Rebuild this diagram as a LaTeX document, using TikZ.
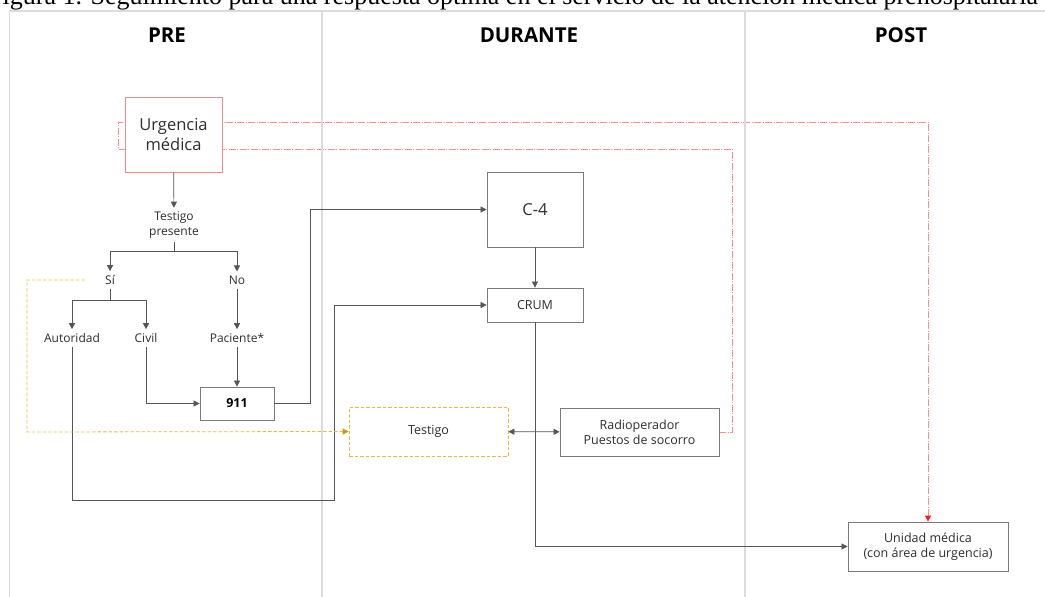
\documentclass[tikz,border=0pt]{standalone}
\usepackage{fontspec}
\setmainfont{Open Sans}
\newfontfamily\capfont{Liberation Serif}
\usetikzlibrary{arrows.meta,backgrounds}
\definecolor{framegray}{HTML}{DCDCDC}
\definecolor{boxgray}{HTML}{7A7A7A}
\definecolor{linegray}{HTML}{555555}
\definecolor{txtgray}{HTML}{2E2E2E}
\definecolor{urgred}{HTML}{F28B8B}
\definecolor{dashred}{HTML}{FF8C8C}
\definecolor{tipred}{HTML}{FF1A1A}
\definecolor{dashgold}{HTML}{E8B84A}
\definecolor{tipgold}{HTML}{C99A12}

\begin{document}
\begin{tikzpicture}[x=1pt,y=1pt,yscale=-1,
    frame/.style={draw=framegray,line width=1.5pt},
    head/.style={font=\fontsize{20.5}{24}\selectfont\bfseries,text=black},
    lbl/.style={font=\fontsize{12}{14.5}\selectfont,text=txtgray,align=center,inner sep=4pt},
    box/.style={draw=boxgray,fill=white,line width=0.8pt,align=center,text=txtgray,
        font=\fontsize{12.5}{15}\selectfont,inner sep=2pt},
    bigtxt/.style={font=\fontsize{16.5}{20}\selectfont},
    arr/.style={draw=linegray,line width=0.7pt,-{Triangle[length=6pt,width=6pt]}},
    plain/.style={draw=linegray,line width=0.7pt},
    redline/.style={draw=dashred,line width=0.8pt,dash pattern=on 7pt off 1.5pt on 1pt off 1.5pt,
        -{Triangle[length=6pt,width=6pt,color=tipred]}},
    goldline/.style={draw=dashgold,line width=0.8pt,dash pattern=on 3.5pt off 2pt,
        -{Triangle[length=6pt,width=6pt,color=tipgold]}}]
    \clip (0,0) rectangle (1045,597);

    \node[anchor=base west,inner sep=0pt,font=\capfont\fontsize{26}{28}\selectfont] (cap) at (-12,5)
        {Figura 1. Seguimiento para una respuesta óptima en el servicio de la atención médica prehospitalaria};

    \draw[frame] (9.5,597) -- (9.5,11) -- (1045,11);
    \draw[frame] (322,11) -- (322,597);
    \draw[frame] (745,11) -- (745,597);

    \node[head] (pre) at (167,35) {PRE};
    \node[head] (dur) at (529,35) {DURANTE};
    \node[head] (post) at (901,35) {POST};

    \node[box,bigtxt,draw=urgred,minimum width=97pt,minimum height=75pt] (urg) at (173.5,134.5) {Urgencia\\médica};
    \node[lbl] (tp) at (174,225) {Testigo\\presente};
    \node[lbl] (si) at (110,280) {Sí};
    \node[lbl] (no) at (237,280) {No};
    \node[lbl] (aut) at (72,338) {Autoridad};
    \node[lbl] (civ) at (146,338) {Civil};
    \node[lbl] (pac) at (237,338) {Paciente*};
    \node[box,minimum width=74pt,minimum height=33pt,font=\fontsize{12.5}{15}\selectfont\bfseries,text=black] (n911) at (237,403.5) {911};
    \node[box,bigtxt,minimum width=96pt,minimum height=75pt] (c4) at (535,209.5) {C-4};
    \node[box,minimum width=96pt,minimum height=34pt] (crum) at (535,305) {CRUM};
    \node[box,draw=dashgold,dash pattern=on 3.5pt off 2pt,minimum width=159pt,minimum height=49pt] (tes) at (428.5,431.5) {Testigo};
    \node[box,minimum width=159pt,minimum height=48pt] (rad) at (639.5,432) {Radioperador\\Puestos de socorro};
    \node[box,minimum width=160pt,minimum height=49pt] (uni) at (928,546.5) {Unidad médica\\(con área de urgencia)};

    \coordinate (tpj) at ([yshift=9pt]tp.south);
    \coordinate (sij) at ([yshift=11pt]si.south);
    \coordinate (aut2) at (334,500);
    \coordinate (gold) at (27,432);
    \coordinate (r1) at (732,149);
    \coordinate (r2) at (118,122);

    \begin{scope}[on background layer]
        \draw[redline] (rad.east) -| (r1) -| (r2) -| (uni.north);
    \end{scope}

    \draw[arr] (urg) -- (tp);
    \draw[plain] (tp.south) -- (tpj);
    \draw[arr] (tpj) -| (si.north);
    \draw[arr] (tpj) -| (no.north);
    \draw[plain] (si.south) -- (sij);
    \draw[arr] (sij) -| (aut.north);
    \draw[arr] (sij) -| (civ.north);
    \draw[arr] (no) -- (pac);
    \draw[arr] (pac) -- (n911);
    \draw[arr] (civ.south) |- (n911.west);
    \draw[arr] (n911.east) -- ++(36,0) |- (c4.west);
    \draw[arr] (c4) -- (crum);
    \draw[arr] (aut.south) |- (aut2) |- (crum.west);
    \draw[arr] (crum.south) |- (uni.west);
    \draw[arr,{Triangle[length=6pt,width=6pt]}-{Triangle[length=6pt,width=6pt]}] (tes) -- (rad);
    \draw[goldline] ([xshift=-16pt]si.west) -| (gold) -- (tes.west);
\end{tikzpicture}
\end{document}
